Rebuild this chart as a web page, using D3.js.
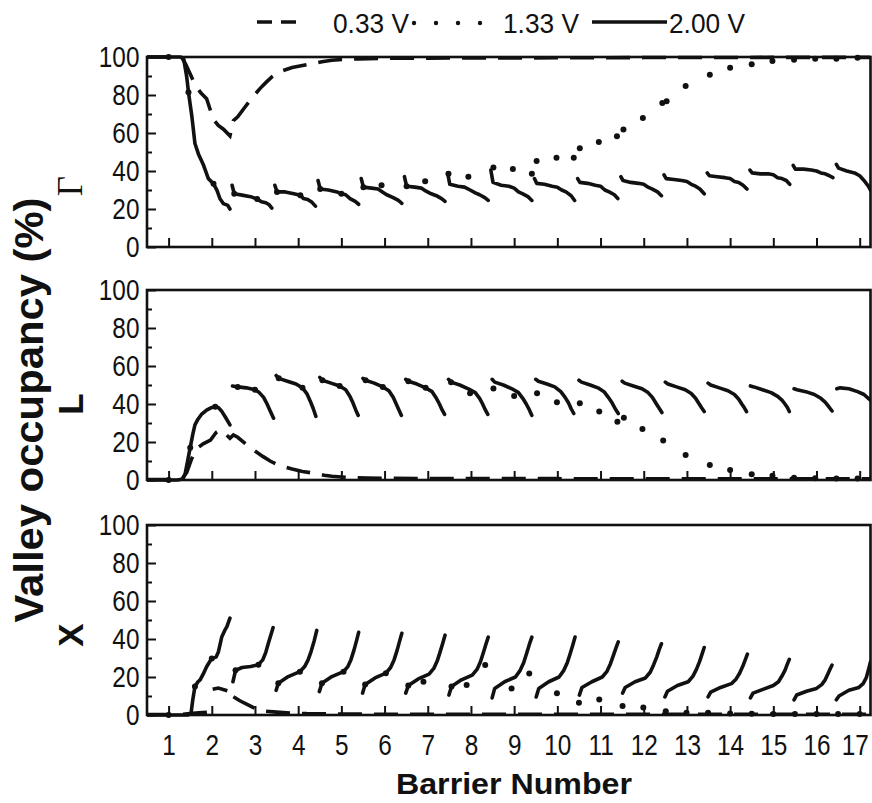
<!DOCTYPE html>
<html>
<head>
<meta charset="utf-8">
<script src="https://cdn.jsdelivr.net/npm/d3@7"></script>
<style>
  html, body { margin: 0; padding: 0; background: #fff; }
  svg { display: block; }
  .tick text { font-family: "Liberation Sans", Arial, sans-serif; font-size: 29px; fill: #111; }
  .tick line { stroke: #111; stroke-width: 2; }
</style>
</head>
<body>
<div id="chart"></div>
<script>
// x ticks and y ticks
const barrierTicks = [1, 2, 3, 4, 5, 6, 7, 8, 9, 10, 11, 12, 13, 14, 15, 16, 17];
const yMajorTicks = [0, 20, 40, 60, 80, 100];
const yMinorTicks = [10, 30, 50, 70, 90];
const legendLabels = ["0.33 V", "1.33 V", "2.00 V"];
const panelNames = ["\u0393", "L", "X"];

// Gamma valley, [barrier, occupancy %], null = break
const gammaLow = [
  [0.5, 100], [1.3, 100], [1.4, 96], [1.5, 91], [1.62, 85], [1.75, 81], [1.88, 78], [2.04, 67], [2.15, 64],
  [2.27, 62], [2.42, 58.5], [2.5, 66.5], [2.6, 68.5], [2.77, 73.7], [2.95, 79], [3.12, 83.5], [3.25, 86.5],
  [3.39, 89.5], [3.6, 92.5], [3.86, 94.5], [4.1, 95.5], [4.32, 96.5], [4.55, 97.5], [4.78, 98.3], [5.1, 98.8],
  [5.4, 99], [6, 99.3], [7, 99.4], [8, 99.5], [9, 99.5], [10, 99.6], [11, 99.6], [12, 99.7], [13, 99.7],
  [14, 99.7], [15, 99.8], [16, 99.8], [17.25, 99.8]
];
const gammaMid = [
  [1.0, 100], [1.46, 81.5], [2.04, 33.3], [2.52, 28], [3.05, 25.2], [3.51, 29], [4.05, 27.2], [4.51, 30.5],
  [5.0, 28], [5.51, 31.5], [5.93, 32.5], [6.51, 32], [6.94, 34.6], [7.48, 38.6], [7.94, 37], [8.52, 41.8],
  [8.97, 41], [9.41, 38.6], [9.52, 45.3], [9.98, 47], [10.38, 47], [10.52, 52], [10.96, 55.3], [11.38, 58.3],
  [11.53, 61.8], [11.98, 67.9], [12.43, 75.8], [12.53, 76.7], [12.97, 84.8], [13.53, 90.7], [14.0, 94.4],
  [14.5, 96.2], [14.98, 97.9], [15.48, 98.6], [15.97, 99.1], [16.46, 99.1], [16.95, 99.6]
];
const gammaHigh = [
  [0.5, 100], [1.28, 100], [1.35, 99], [1.42, 89.5], [1.46, 81.5], [1.54, 68.5], [1.61, 54.5], [1.69, 49],
  [1.81, 43], [1.92, 36], [2.04, 33.3], [2.12, 29.8], [2.19, 25.4], [2.27, 22.8], [2.37, 21.9], [2.42, 20],
  null,
  [2.47, 32.5], [2.52, 28], [2.7, 27.3], [2.9, 26.5], [3.05, 25.2], [3.15, 23.8], [3.25, 23.3], [3.33, 22.2], [3.39, 20.5],
  null,
  [3.46, 32.5], [3.51, 29], [3.7, 29], [3.9, 28], [4.05, 27.2], [4.12, 25.5], [4.22, 25], [4.32, 23.5], [4.4, 21.5],
  null,
  [4.46, 35], [4.51, 30.5], [4.7, 30], [4.9, 29], [5.0, 28], [5.1, 27.5], [5.2, 25.5], [5.32, 24], [5.4, 22.5],
  null,
  [5.46, 36], [5.51, 31.5], [5.7, 31], [5.85, 30.5], [5.95, 29], [6.05, 27.5], [6.2, 26], [6.32, 24.5], [6.4, 23],
  null,
  [6.46, 37], [6.51, 32], [6.7, 31.5], [6.85, 31], [6.95, 29.5], [7.08, 28], [7.2, 27], [7.32, 25.5], [7.4, 24],
  null,
  [7.46, 39], [7.51, 33], [7.7, 32], [7.85, 31.5], [7.98, 30], [8.1, 28.5], [8.2, 27.5], [8.32, 26], [8.4, 24.5],
  null,
  [8.46, 40.5], [8.51, 34], [8.7, 32.5], [8.88, 32], [9.0, 31], [9.1, 29], [9.2, 28], [9.32, 26.5], [9.41, 24.5],
  null,
  [9.47, 36], [9.52, 33.5], [9.7, 33], [9.88, 32], [10.0, 31.5], [10.1, 30], [10.2, 29], [10.32, 27], [10.4, 24.5],
  null,
  [10.47, 36], [10.52, 34], [10.7, 33.5], [10.88, 32.5], [11.0, 32], [11.1, 30], [11.2, 29], [11.32, 27.5], [11.4, 25.5],
  null,
  [11.47, 37], [11.52, 35], [11.7, 34], [11.88, 33.5], [12.0, 33], [12.1, 31.5], [12.2, 30.5], [12.32, 29], [12.41, 27],
  null,
  [12.47, 38], [12.52, 36], [12.7, 35.5], [12.88, 35], [13.0, 34.5], [13.1, 33], [13.2, 32], [13.3, 30.5], [13.4, 28],
  null,
  [13.47, 39], [13.52, 37.5], [13.7, 37], [13.88, 36.5], [14.0, 36], [14.1, 34.5], [14.2, 34], [14.3, 32.5], [14.39, 30.5],
  null,
  [14.46, 40.5], [14.51, 39], [14.7, 38.5], [14.88, 38.5], [15.0, 38], [15.1, 36.5], [15.2, 36], [15.3, 35], [15.38, 33],
  null,
  [15.46, 43], [15.51, 41], [15.7, 41], [15.88, 40.5], [16.0, 40], [16.1, 39], [16.2, 38.5], [16.3, 37.5], [16.38, 36.5],
  null,
  [16.46, 43.5], [16.51, 41.5], [16.7, 40], [16.88, 39], [17.0, 37.5], [17.1, 35], [17.2, 32], [17.25, 30]
];

// L valley
const lLow = [
  [0.5, 0.3], [1.3, 0.3], [1.42, 4], [1.53, 11], [1.65, 16.5], [1.8, 19], [1.97, 21], [2.1, 25], [2.19, 26.3],
  [2.3, 24.5], [2.42, 22], [2.5, 23.7], [2.6, 22.5], [2.77, 19.3], [2.95, 16], [3.19, 12.3], [3.35, 10],
  [3.53, 8], [3.7, 6.8], [3.86, 5.8], [4.1, 4.5], [4.39, 3.5], [4.6, 2.5], [4.78, 2], [5.0, 1.6], [5.24, 1.2],
  [5.6, 1], [6, 0.9], [7, 0.8], [8, 0.7], [9, 0.7], [10, 0.7], [11, 0.6], [12, 0.6], [13, 0.6], [14, 0.6],
  [15, 0.6], [16, 0.6], [17.25, 0.6]
];
const lMid = [
  [1.0, 0], [1.5, 17], [2.08, 38.6], [2.6, 49], [3.0, 47.5], [3.55, 53.5], [4.1, 48.5], [4.56, 52.5],
  [4.96, 49.5], [5.56, 52.5], [5.96, 49], [6.55, 52], [6.95, 48.5], [7.54, 51.5], [7.98, 45.6], [8.52, 48.2],
  [9.0, 44.2], [9.53, 45.6], [9.99, 40.9], [10.52, 40.4], [10.97, 36], [11.39, 30.7], [11.54, 32.8],
  [11.97, 26.9], [12.45, 20.8], [12.97, 13.2], [13.53, 7.9], [14.0, 5.3], [14.5, 3], [14.98, 2.3],
  [15.48, 1.2], [15.97, 0.9], [16.46, 0.8], [16.95, 0.8]
];
const lHigh = [
  [0.5, 0], [1.2, 0], [1.33, 0.5], [1.38, 3], [1.44, 10], [1.5, 17], [1.56, 24], [1.61, 29], [1.68, 32],
  [1.76, 34.5], [1.88, 36.8], [1.98, 38], [2.08, 38.6], [2.15, 38.2], [2.22, 36.5], [2.31, 33.3], [2.42, 29],
  null,
  [2.48, 49.5], [2.6, 49], [2.8, 48.5], [3.0, 47.5], [3.1, 46], [3.2, 43.5], [3.28, 40], [3.35, 36.5], [3.43, 32.5],
  null,
  [3.49, 55], [3.55, 53.5], [3.75, 52], [3.95, 50.5], [4.1, 48.5], [4.2, 45.5], [4.28, 41.5], [4.35, 37.5], [4.41, 33.5],
  null,
  [4.5, 54], [4.56, 52.5], [4.76, 51], [4.96, 49.5], [5.1, 47.5], [5.2, 44], [5.27, 40.5], [5.33, 37], [5.39, 34],
  null,
  [5.5, 53.5], [5.56, 52.5], [5.76, 51], [5.96, 49], [6.1, 47], [6.2, 43.5], [6.27, 40], [6.33, 37], [6.39, 34],
  null,
  [6.49, 53], [6.55, 52], [6.75, 50.5], [6.95, 48.5], [7.1, 46.5], [7.2, 43], [7.27, 40], [7.33, 37], [7.39, 34.5],
  null,
  [7.48, 53], [7.54, 51.5], [7.74, 50], [7.94, 48], [8.1, 46], [8.2, 43], [8.27, 40], [8.33, 37], [8.39, 34.5],
  null,
  [8.49, 53], [8.55, 51.5], [8.75, 50], [8.95, 48], [9.1, 46], [9.2, 43], [9.28, 40], [9.35, 37], [9.41, 34],
  null,
  [9.5, 53], [9.56, 52], [9.76, 50.5], [9.94, 49], [10.08, 46.5], [10.18, 43.5], [10.26, 40.5], [10.32, 37.5], [10.38, 35],
  null,
  [10.5, 52.5], [10.56, 51.5], [10.76, 50], [10.94, 48.5], [11.08, 46.5], [11.18, 43.5], [11.27, 40.5], [11.34, 37.5], [11.41, 35],
  null,
  [11.5, 52], [11.56, 51], [11.76, 49.5], [11.96, 48], [12.1, 46], [12.2, 43.5], [12.28, 40.5], [12.35, 38], [12.42, 35.5],
  null,
  [12.5, 51.5], [12.56, 50.5], [12.76, 49], [12.96, 47.5], [13.1, 45.5], [13.2, 43], [13.27, 40.5], [13.34, 38], [13.4, 36],
  null,
  [13.49, 51], [13.55, 50], [13.75, 48.5], [13.95, 47], [14.1, 45], [14.2, 42.5], [14.27, 40], [14.33, 38], [14.38, 36],
  null,
  [14.47, 49.5], [14.55, 49], [14.75, 47.5], [14.95, 46], [15.1, 44], [15.2, 42], [15.27, 40], [15.33, 38], [15.37, 36],
  null,
  [15.48, 48], [15.55, 47.5], [15.75, 46.5], [15.95, 45], [16.1, 43], [16.2, 41], [16.27, 39], [16.32, 37.5], [16.36, 36.3],
  null,
  [16.47, 48], [16.55, 48.5], [16.75, 48], [16.95, 46.5], [17.1, 45], [17.2, 43], [17.25, 42]
];

// X valley
const xLow = [
  [0.5, 0.3], [1.3, 0.3], [1.5, 0.8], [1.7, 1.2], [1.9, 1.5],
  null,
  [2.02, 13.5], [2.15, 14.2], [2.3, 13.2], [2.36, 12.8],
  null,
  [2.5, 9.6], [2.65, 7.5], [2.84, 5.3], [3.0, 3.5], [3.23, 2], [3.5, 1.5], [3.85, 1], [4.2, 0.7], [5, 0.5],
  [6, 0.4], [8, 0.4], [10, 0.4], [12, 0.4], [14, 0.4], [17.25, 0.4]
];
const xMid = [
  [1.0, 0], [1.61, 15], [2.0, 29.8], [2.55, 23.5], [3.08, 26.5], [3.54, 16.7], [4.04, 22.8], [4.55, 16.7],
  [5.05, 22.8], [5.55, 16], [6.03, 22], [6.55, 15.5], [6.9, 17.5], [7.55, 15], [7.9, 15.8], [8.33, 26.3],
  [8.94, 14], [9.35, 21.9], [9.99, 11.4], [10.5, 6.5], [10.97, 8.2], [11.51, 4.7], [11.99, 4],
  [12.51, 2], [12.99, 1.2], [13.49, 1.2], [14.0, 0.8], [14.5, 0.6], [15.0, 0.5], [15.5, 0.5], [16.0, 0.5],
  [16.5, 0.5], [17.0, 0.5]
];
const xHigh = [
  [0.5, 0], [1.45, 0], [1.52, 1], [1.56, 8], [1.61, 15], [1.68, 17.5], [1.73, 18.5], [1.8, 21.5], [1.88, 25.4],
  [1.95, 28], [2.0, 29.8], [2.1, 30.5], [2.15, 33], [2.23, 41], [2.3, 44.5], [2.35, 46.5], [2.42, 51],
  null,
  [2.49, 17.5], [2.55, 23.5], [2.7, 25], [2.9, 25.5], [3.08, 26.5], [3.18, 29], [3.25, 33], [3.32, 38.5], [3.42, 46],
  null,
  [3.49, 13], [3.54, 16.7], [3.77, 20.2], [4.04, 22.8], [4.15, 25.5], [4.23, 29], [4.3, 33.5], [4.37, 39], [4.43, 44.5],
  null,
  [4.49, 12.3], [4.55, 16.7], [4.78, 20.2], [5.05, 22.8], [5.15, 25.5], [5.22, 29], [5.29, 34], [5.35, 39], [5.4, 43.5],
  null,
  [5.49, 11.5], [5.55, 16], [5.78, 19.5], [6.03, 22], [6.14, 25], [6.22, 29], [6.29, 34], [6.35, 39], [6.4, 43],
  null,
  [6.49, 11.5], [6.55, 15.5], [6.78, 19], [7.03, 21.5], [7.14, 24.5], [7.22, 28.5], [7.29, 33.5], [7.35, 38], [7.4, 42],
  null,
  [7.49, 10.5], [7.55, 15], [7.78, 18.5], [8.03, 21], [8.14, 24], [8.22, 28], [8.29, 33], [8.35, 37.5], [8.4, 41],
  null,
  [8.49, 9], [8.55, 14], [8.78, 17.5], [9.03, 20], [9.14, 23.5], [9.22, 27.5], [9.29, 32.5], [9.35, 37], [9.41, 41],
  null,
  [9.51, 9.5], [9.57, 14], [9.8, 17.5], [10.04, 20], [10.15, 23.5], [10.23, 27.5], [10.3, 32.5], [10.36, 37], [10.41, 41],
  null,
  [10.51, 10.5], [10.57, 14.5], [10.8, 17.5], [11.04, 20], [11.15, 23], [11.23, 27], [11.3, 31.5], [11.36, 35.5], [11.41, 38.5],
  null,
  [11.51, 11.5], [11.57, 14.5], [11.8, 17.5], [12.04, 19.5], [12.15, 22.5], [12.23, 26.5], [12.3, 30.5], [12.36, 34.5], [12.41, 37.5],
  null,
  [12.49, 9.5], [12.55, 12.5], [12.78, 15.5], [13.03, 17.5], [13.14, 20.5], [13.22, 24], [13.29, 28], [13.35, 32], [13.4, 35.5],
  null,
  [13.49, 9.5], [13.55, 12], [13.78, 14.5], [14.03, 16.5], [14.14, 19], [14.22, 22], [14.29, 25.5], [14.35, 29], [14.4, 32],
  null,
  [14.47, 9], [14.53, 11.5], [14.76, 13.5], [15.0, 15.5], [15.12, 17.5], [15.2, 20.5], [15.27, 23.5], [15.32, 26.5], [15.37, 29.3],
  null,
  [15.48, 8], [15.54, 10.5], [15.77, 12.5], [16.0, 14], [16.12, 16], [16.2, 18.5], [16.26, 21.5], [16.31, 24], [16.36, 26.3],
  null,
  [16.46, 8], [16.52, 10], [16.75, 13], [16.98, 14.5], [17.08, 16.5], [17.15, 19.5], [17.2, 23.5], [17.25, 28]
];

const panels = [
  { name: panelNames[0], low: gammaLow, mid: gammaMid, high: gammaHigh },
  { name: panelNames[1], low: lLow, mid: lMid, high: lHigh },
  { name: panelNames[2], low: xLow, mid: xMid, high: xHigh }
];

const ink = "#111";
const plotLeft = 147, plotRight = 870.5;
const panelTops = [57, 290, 525];
const panelHeight = 190;
const narrow = "scale(0.84,1)";

const svg = d3.select("#chart").append("svg")
  .attr("width", 872)
  .attr("height", 803)
  .style("background", "#fff");

const x = d3.scaleLinear().domain([0.5, 17.25]).range([plotLeft, plotRight]);

svg.append("defs").append("clipPath")
  .attr("id", "plotclip")
  .append("rect")
  .attr("x", plotLeft).attr("y", 0)
  .attr("width", plotRight - plotLeft).attr("height", 803);

panels.forEach(function (p, i) {
  const top = panelTops[i];
  const bottom = top + panelHeight;
  const y = d3.scaleLinear().domain([0, 100]).range([bottom, top]);
  const g = svg.append("g").attr("class", "panel");

  // y ticks, inside
  g.append("g")
    .attr("transform", `translate(${plotLeft},0)`)
    .call(d3.axisLeft(y).tickValues(yMajorTicks).tickSize(-9).tickPadding(9))
    .call(a => a.select(".domain").remove())
    .call(a => a.selectAll("text").attr("transform", narrow));

  g.append("g")
    .attr("transform", `translate(${plotLeft},0)`)
    .call(d3.axisLeft(y).tickValues(yMinorTicks).tickSize(-5).tickFormat(""))
    .call(a => a.select(".domain").remove());

  // x ticks, labels only on the last panel
  g.append("g")
    .attr("transform", `translate(0,${bottom})`)
    .call(d3.axisBottom(x).tickValues(barrierTicks).tickSize(-9).tickPadding(19)
      .tickFormat(i === panels.length - 1 ? d3.format("d") : ""))
    .call(a => a.select(".domain").remove())
    .call(a => a.selectAll("text").attr("transform", (d, k, all) =>
      k === all.length - 1 ? "translate(-5,0) " + narrow : narrow));

  const line = d3.line()
    .defined(d => d !== null)
    .x(d => x(d[0]))
    .y(d => y(d[1]));

  const plot = g.append("g").attr("clip-path", "url(#plotclip)");

  plot.append("path")
    .datum(p.low)
    .attr("d", line)
    .attr("fill", "none")
    .attr("stroke", ink)
    .attr("stroke-width", 3.6)
    .attr("stroke-dasharray", "24,12");

  plot.append("path")
    .datum(p.high)
    .attr("d", line)
    .attr("fill", "none")
    .attr("stroke", ink)
    .attr("stroke-width", 3.6)
    .attr("stroke-linejoin", "round")
    .attr("stroke-linecap", "round");

  plot.selectAll("circle.dot")
    .data(p.mid)
    .enter().append("circle")
    .attr("class", "dot")
    .attr("cx", d => x(d[0]))
    .attr("cy", d => y(d[1]))
    .attr("r", 3)
    .attr("fill", ink);

  // frame
  g.append("rect")
    .attr("x", plotLeft)
    .attr("y", top)
    .attr("width", plotRight - plotLeft)
    .attr("height", panelHeight)
    .attr("fill", "none")
    .attr("stroke", ink)
    .attr("stroke-width", 2.6);

  // valley name, rotated
  const cy = top + panelHeight * [0.68, 0.6, 0.58][i];
  g.append("text")
    .attr("transform", `translate(70,${cy}) rotate(-90)`)
    .attr("text-anchor", "middle")
    .attr("dominant-baseline", "central")
    .attr("font-family", i === 0 ? "'Liberation Serif', serif" : "'Liberation Sans', Arial, sans-serif")
    .attr("font-weight", i === 0 ? "normal" : "bold")
    .attr("font-size", 35)
    .attr("fill", ink)
    .text(p.name);
});

// axis titles
svg.append("text")
  .attr("transform", "translate(43,410) rotate(-90)")
  .attr("text-anchor", "middle")
  .attr("font-family", "'Liberation Sans', Arial, sans-serif")
  .attr("font-weight", "bold")
  .attr("font-size", 41)
  .attr("textLength", 425)
  .attr("lengthAdjust", "spacingAndGlyphs")
  .attr("fill", ink)
  .text("Valley occupancy (%)");

svg.append("text")
  .attr("x", 514)
  .attr("y", 794)
  .attr("text-anchor", "middle")
  .attr("font-family", "'Liberation Sans', Arial, sans-serif")
  .attr("font-weight", "bold")
  .attr("font-size", 30)
  .attr("textLength", 236)
  .attr("lengthAdjust", "spacingAndGlyphs")
  .attr("fill", ink)
  .text("Barrier Number");

// legend
const legend = svg.append("g").attr("class", "legend");
const legendY = 22;
legend.append("line")
  .attr("x1", 257).attr("x2", 296)
  .attr("y1", legendY).attr("y2", legendY)
  .attr("stroke", ink).attr("stroke-width", 3.6)
  .attr("stroke-dasharray", "15,9");
legend.selectAll("circle")
  .data([414, 436, 458, 480])
  .enter().append("circle")
  .attr("cx", d => d)
  .attr("cy", legendY + 1)
  .attr("r", 2.2)
  .attr("fill", ink);
legend.append("line")
  .attr("x1", 592).attr("x2", 667)
  .attr("y1", legendY).attr("y2", legendY)
  .attr("stroke", ink).attr("stroke-width", 3.6);
legend.selectAll("text")
  .data(legendLabels)
  .enter().append("text")
  .attr("x", (d, k) => [333, 503, 669][k])
  .attr("y", 33)
  .attr("font-family", "'Liberation Sans', Arial, sans-serif")
  .attr("font-size", 28)
  .attr("textLength", 76)
  .attr("lengthAdjust", "spacingAndGlyphs")
  .attr("fill", ink)
  .text(d => d);
</script>
</body>
</html>
